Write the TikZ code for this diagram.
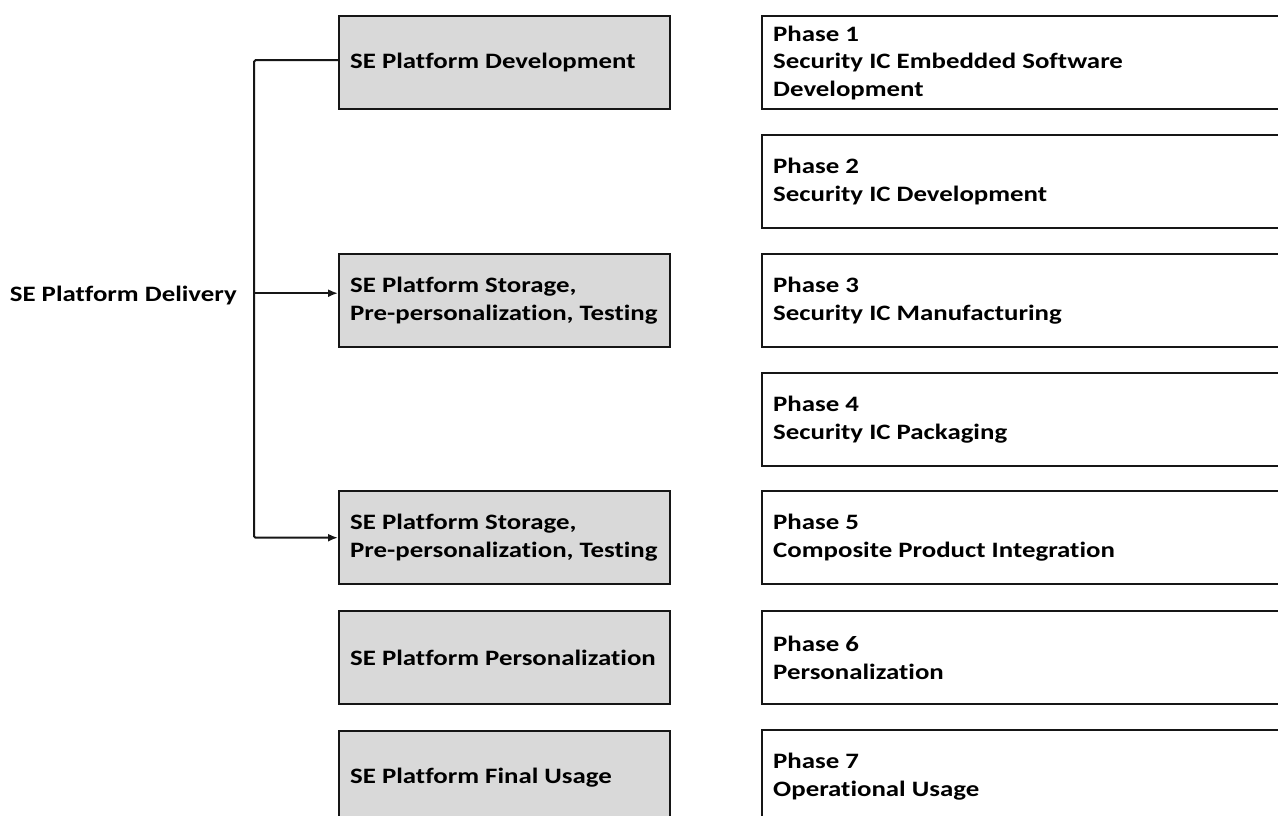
\documentclass[tikz,border=0pt]{standalone}
\usepackage{fontspec}
\setmainfont{Carlito}[FakeStretch=1.22,Ligatures=NoCommon]
\usetikzlibrary{arrows.meta,calc}
\definecolor{boxgray}{HTML}{D9D9D9}
\definecolor{ink}{HTML}{161616}
\begin{document}
\begin{tikzpicture}[x=1pt,y=-1pt,
  font=\fontsize{22}{27.5}\selectfont\bfseries,
  stage/.style={draw=ink,line width=2.4pt,fill=boxgray,anchor=north west,
    minimum width=331pt,minimum height=93pt,text width=309pt,align=flush left,
    inner xsep=11pt,inner ysep=0pt},
  phasebox/.style={draw=ink,line width=2.4pt,fill=white,anchor=north west,
    minimum width=560pt,minimum height=93pt,text width=538pt,align=flush left,
    inner xsep=11pt,inner ysep=0pt},
  conn/.style={draw=ink,line width=2pt,rounded corners=1.5pt},
  arr/.style={conn,-{Latex[length=10pt,width=8pt]}}]
\useasboundingbox (0,0) rectangle (1278,815);
\fill[white] (0,0) rectangle (1278,815);
\clip (0,0) rectangle (1278,815);

% delivery stages (left column)
\node[stage] (dev)   at (338,15)  {SE Platform Development};
\node[stage] (stor1) at (338,253) {SE Platform Storage,\\Pre-personalization, Testing};
\node[stage] (stor2) at (338,490) {SE Platform Storage,\\Pre-personalization, Testing};
\node[stage] (pers)  at (338,610) {SE Platform Personalization};
\node[stage] (use)   at (338,730) {SE Platform Final Usage};

% life-cycle phases (right column)
\node[phasebox] (p1) at (761,15)  {Phase 1\\Security IC Embedded Software\\Development};
\node[phasebox] (p2) at (761,134) {Phase 2\\Security IC Development};
\node[phasebox] (p3) at (761,253) {Phase 3\\Security IC Manufacturing};
\node[phasebox] (p4) at (761,372) {Phase 4\\Security IC Packaging};
\node[phasebox] (p5) at (761,490) {Phase 5\\Composite Product Integration};
\node[phasebox] (p6) at (761,610) {Phase 6\\Personalization};
\node[phasebox] (p7) at (761,729) {Phase 7\\Operational Usage};

% root label and its bracket
\node[anchor=east,inner sep=0pt] (root) at (237,296) {SE Platform Delivery};
\coordinate (sp) at (254,0);
\coordinate (a1) at ([yshift=2.5pt]dev.west);
\coordinate (a2) at ([yshift=7.5pt]stor1.west);
\draw[arr] (a1) -| (sp |- stor2.west) -- (stor2.west);
\draw[arr] (sp |- a2) -- (a2);
\end{tikzpicture}
\end{document}
